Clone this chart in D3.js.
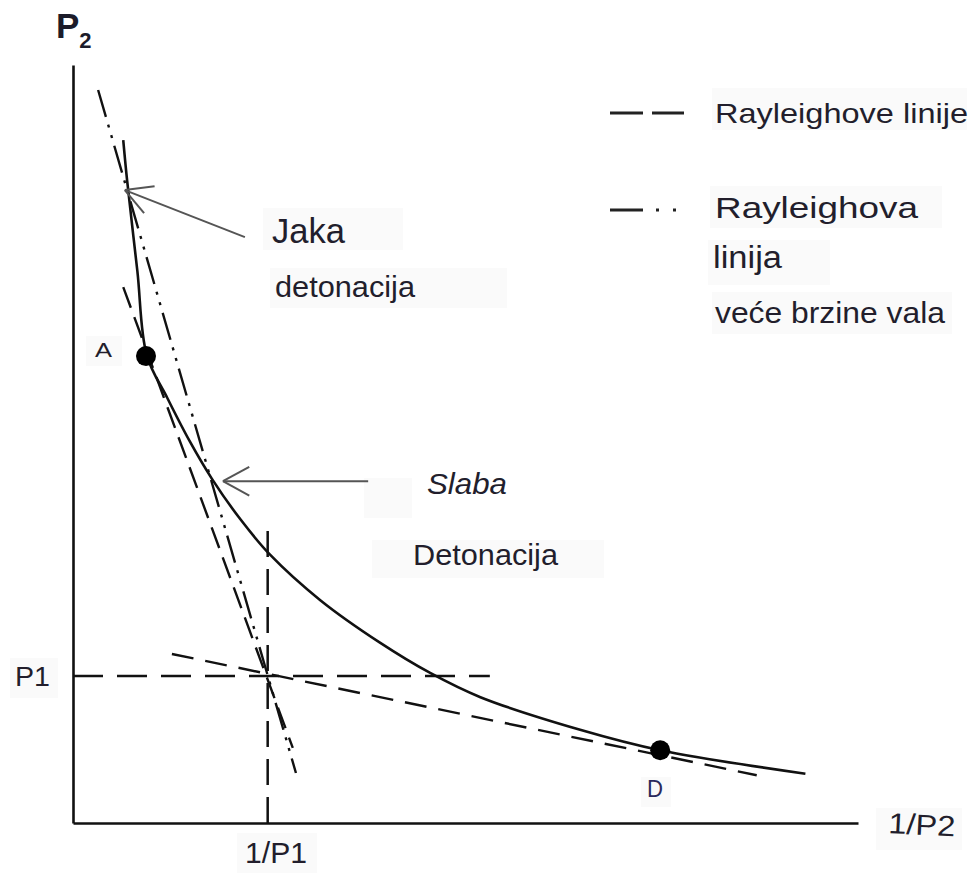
<!DOCTYPE html>
<html>
<head>
<meta charset="utf-8">
<script src="https://cdn.jsdelivr.net/npm/d3@7"></script>
<style>
  html, body { margin: 0; padding: 0; background: #ffffff; }
  svg { display: block; }
  text { font-family: "Liberation Sans", Arial, sans-serif; fill: #221e2c; }
</style>
</head>
<body>
<svg id="chart" width="973" height="875"></svg>
<script>
// ---- data (abstract v = 1/P axis units, p = P axis units) ----
const hugoniotV = [6.4, 6.9, 8.2, 9.4, 12.0, 14.9, 17.7, 21.3, 25.1, 31.5, 39.1, 45.5, 51.9, 64.6, 74.8, 93.3];
const hugoniotP = [90.1, 84.7, 72.8, 61.7, 56.1, 50.3, 45.4, 40.1, 35.4, 29.4, 23.8, 19.8, 16.6, 12.3, 9.6, 6.5];

const initialV = 24.8;   // 1/P1
const initialP = 19.4;   // P1

const rayleighNames = ["steep", "shallow", "fast"];
const rayleighStartV = [6.4, 12.6, 3.2];
const rayleighStartP = [70.7, 22.3, 96.7];
const rayleighEndV   = [28.0, 87.1, 28.4];
const rayleighEndP   = [9.9, 6.3, 6.6];

const pointNames = ["A", "D"];
const pointV = [9.3, 74.8];
const pointP = [61.6, 9.6];

const refLineEndV = 53.1;  // end of horizontal P1 line
const refLineEndP = 39.3;  // top of vertical 1/P1 line

const arrowNames = ["Jaka", "Slaba"];
const arrowFromV = [21.9, 37.6];
const arrowFromP = [77.3, 45.1];
const arrowToV   = [6.6, 19.1];
const arrowToP   = [83.5, 45.1];

const legendLabels = ["Rayleighove linije", "Rayleighova", "linija", "veće brzine vala"];
const annotationLabels = ["Jaka", "detonacija", "Slaba", "Detonacija"];
const axisLabels = ["P", "1/P2", "P1", "1/P1"];

// ---- layout ----
const svg = d3.select("#chart");
const x = d3.scaleLinear().domain([0, 100]).range([73, 858]);
const y = d3.scaleLinear().domain([0, 100]).range([823, 65]);

// faint label backgrounds (pasted text boxes)
const boxes = [
  [263, 208, 140, 42], [270, 268, 237, 40], [712, 88, 255, 42], [710, 186, 232, 42],
  [708, 240, 122, 45], [712, 292, 240, 42], [372, 540, 232, 38], [86, 336, 36, 30],
  [641, 777, 30, 30], [10, 658, 48, 40], [237, 833, 80, 40], [876, 808, 86, 42],
  [364, 478, 48, 40]
];
svg.append("g").selectAll("rect").data(boxes).join("rect")
  .attr("x", d => d[0]).attr("y", d => d[1]).attr("width", d => d[2]).attr("height", d => d[3])
  .attr("fill", "#fafafa");

// axes (plain lines, no ticks)
const xAxis = d3.axisBottom(x).tickValues([]).tickSizeOuter(0);
const yAxis = d3.axisLeft(y).tickValues([]).tickSizeOuter(0);
const gx = svg.append("g").attr("transform", `translate(0,${y(0)})`).call(xAxis);
const gy = svg.append("g").attr("transform", `translate(${x(0)},0)`).call(yAxis);
[gx, gy].forEach(g => g.select(".domain").attr("stroke", "#111").attr("stroke-width", 2.6));

// reference dashed lines through initial state
svg.append("line")
  .attr("x1", x(0)).attr("y1", y(initialP)).attr("x2", x(refLineEndV)).attr("y2", y(initialP))
  .attr("stroke", "#111").attr("stroke-width", 2.5).attr("stroke-dasharray", "30,14");
svg.append("line")
  .attr("x1", x(initialV)).attr("y1", y(0)).attr("x2", x(initialV)).attr("y2", y(refLineEndP))
  .attr("stroke", "#111").attr("stroke-width", 2.5).attr("stroke-dasharray", "26,12");

// Rayleigh lines
const dashStyles = { steep: "22,10", shallow: "22,12", fast: "28,8,3,8,3,8" };
rayleighNames.forEach((n, i) => {
  svg.append("line")
    .attr("x1", x(rayleighStartV[i])).attr("y1", y(rayleighStartP[i]))
    .attr("x2", x(rayleighEndV[i])).attr("y2", y(rayleighEndP[i]))
    .attr("stroke", "#111").attr("stroke-width", 2.4)
    .attr("stroke-dasharray", dashStyles[n]);
});

// Hugoniot curve
const curvePts = hugoniotV.map((v, i) => [v, hugoniotP[i]]);
svg.append("path")
  .attr("d", d3.line().x(d => x(d[0])).y(d => y(d[1])).curve(d3.curveCatmullRom.alpha(0.5))(curvePts))
  .attr("fill", "none").attr("stroke", "#111").attr("stroke-width", 2.6);

// Points A and D
svg.append("g").selectAll("circle").data(pointNames).join("circle")
  .attr("cx", (d, i) => x(pointV[i])).attr("cy", (d, i) => y(pointP[i])).attr("r", 10)
  .attr("fill", "#000");

// arrows
arrowNames.forEach((n, i) => {
  const x1 = x(arrowFromV[i]), y1 = y(arrowFromP[i]);
  const x2 = x(arrowToV[i]), y2 = y(arrowToP[i]);
  const g = svg.append("g").attr("stroke", "#555").attr("stroke-width", 2).attr("fill", "none");
  g.append("line").attr("x1", x1).attr("y1", y1).attr("x2", x2).attr("y2", y2);
  const ang = Math.atan2(y1 - y2, x1 - x2);
  [-0.5, 0.5].forEach(da => {
    g.append("line").attr("x1", x2).attr("y1", y2)
      .attr("x2", x2 + 30 * Math.cos(ang + da)).attr("y2", y2 + 30 * Math.sin(ang + da));
  });
});

// helper for text with fitted width
function label(txt, px, py, size, width, opts = {}) {
  const t = svg.append("text").attr("x", px).attr("y", py).attr("font-size", size).text(txt);
  if (width) t.attr("textLength", width).attr("lengthAdjust", "spacingAndGlyphs");
  if (opts.italic) t.attr("font-style", "italic");
  if (opts.fill) t.style("fill", opts.fill);
  if (opts.transform) t.attr("transform", opts.transform);
  return t;
}

// axis labels
const p2 = svg.append("text").attr("x", 56).attr("y", 38).attr("font-size", 35).attr("font-weight", "bold")
  .style("fill", "#1c1c2a");
p2.append("tspan").text(axisLabels[0]);
p2.append("tspan").attr("font-size", 22).attr("dy", 10).text("2");
label(axisLabels[1], 888, 833, 29, 67, { transform: "rotate(3,888,833)" });
label(axisLabels[2], 15, 686, 27, 35);
label(axisLabels[3], 245, 863, 29, 62);

// point labels
label(pointNames[0], 95, 357, 20, 17);
label(pointNames[1], 647, 797, 23, 16, { fill: "#2b2a5c" });

// annotation labels
label(annotationLabels[0], 272, 243, 35, 73);
label(annotationLabels[1], 275, 297, 30, 140);
label(annotationLabels[2], 427, 494, 29, 80, { italic: true });
label(annotationLabels[3], 413, 565, 30, 145);

// legend
const lg = svg.append("g");
lg.append("line").attr("x1", 610).attr("y1", 113).attr("x2", 684).attr("y2", 113)
  .attr("stroke", "#222").attr("stroke-width", 3).attr("stroke-dasharray", "33,9");
lg.append("line").attr("x1", 610).attr("y1", 210).attr("x2", 680).attr("y2", 210)
  .attr("stroke", "#222").attr("stroke-width", 3).attr("stroke-dasharray", "33,13,3,14,3,20");
label(legendLabels[0], 715, 123, 28, 253);
label(legendLabels[1], 715, 218, 30, 203);
label(legendLabels[2], 713, 268, 31, 69);
label(legendLabels[3], 715, 323, 29, 230);
</script>
</body>
</html>
